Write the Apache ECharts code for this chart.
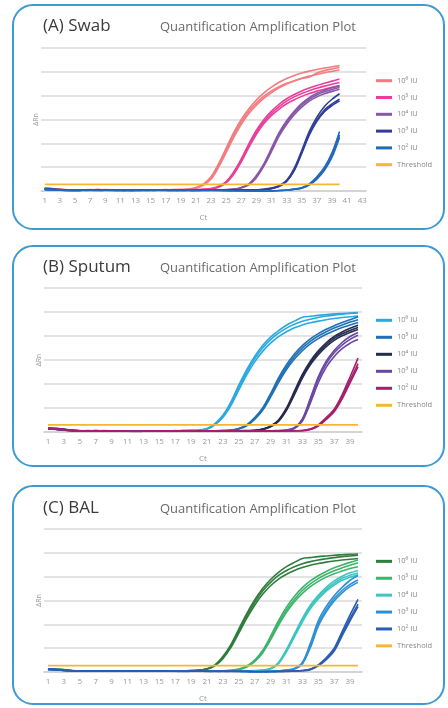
<!DOCTYPE html>
<html>
<head>
<meta charset="utf-8">
<script src="https://cdn.jsdelivr.net/npm/echarts@6/dist/echarts.min.js"></script>
<style>
  body { margin: 0; background: #fff; }
  .panel { position: absolute; left: 0; width: 448px; height: 236px; }
</style>
</head>
<body>
<div id="swab" class="panel" style="top:0"></div>
<div id="sputum" class="panel" style="top:236px"></div>
<div id="bal" class="panel" style="top:472px"></div>
<script>
// cycle categories
const cyclesA = [1,2,3,4,5,6,7,8,9,10,11,12,13,14,15,16,17,18,19,20,21,22,23,24,25,26,27,28,29,30,31,32,33,34,35,36,37,38,39,40,41,42,43];
const cyclesB = [1,2,3,4,5,6,7,8,9,10,11,12,13,14,15,16,17,18,19,20,21,22,23,24,25,26,27,28,29,30,31,32,33,34,35,36,37,38,39,40];
const legendNames = ['10⁶ IU', '10⁵ IU', '10⁴ IU', '10³ IU', '10² IU'];

// (A) Swab, three replicates per dilution, ΔRn per cycle
const swab6 = [
  [0.12,0.1,0.07,0.05,0.04,0.05,0.06,0.05,0.06,0.05,0.04,0.04,0.05,0.05,0.04,0.05,0.06,0.05,0.05,0.08,0.15,0.3,0.6,1.15,1.8,2.45,3.0,3.45,3.82,4.12,4.36,4.56,4.72,4.85,4.95,5.03,5.1,5.16,5.21,5.26],
  [0.11,0.09,0.06,0.04,0.04,0.05,0.05,0.06,0.05,0.04,0.04,0.05,0.04,0.05,0.05,0.04,0.05,0.06,0.06,0.07,0.13,0.27,0.55,1.05,1.7,2.35,2.9,3.35,3.7,3.98,4.2,4.38,4.52,4.63,4.72,4.78,4.95,5.05,5.12,5.18],
  [0.1,0.09,0.07,0.05,0.03,0.04,0.05,0.05,0.04,0.05,0.05,0.04,0.04,0.04,0.05,0.05,0.05,0.05,0.06,0.07,0.12,0.25,0.5,1.0,1.62,2.25,2.8,3.25,3.6,3.9,4.13,4.33,4.49,4.62,4.73,4.82,4.89,4.96,5.02,5.08]
];
const swab5 = [
  [0.11,0.09,0.06,0.05,0.04,0.04,0.05,0.06,0.05,0.04,0.04,0.05,0.05,0.04,0.04,0.05,0.05,0.05,0.04,0.05,0.05,0.07,0.1,0.2,0.4,0.8,1.35,1.98,2.55,3.0,3.35,3.64,3.87,4.05,4.2,4.32,4.43,4.52,4.61,4.7],
  [0.1,0.08,0.06,0.04,0.04,0.05,0.05,0.05,0.04,0.04,0.05,0.05,0.04,0.04,0.05,0.04,0.05,0.04,0.05,0.05,0.06,0.07,0.09,0.18,0.37,0.75,1.28,1.9,2.46,2.92,3.26,3.54,3.77,3.95,4.09,4.21,4.31,4.4,4.48,4.55],
  [0.1,0.09,0.05,0.04,0.03,0.04,0.05,0.04,0.05,0.05,0.04,0.04,0.05,0.05,0.04,0.04,0.05,0.05,0.05,0.04,0.05,0.06,0.08,0.16,0.34,0.7,1.22,1.83,2.38,2.83,3.17,3.44,3.66,3.83,3.97,4.09,4.19,4.27,4.35,4.42]
];
const swab4 = [
  [0.09,0.08,0.06,0.04,0.03,0.04,0.05,0.04,0.04,0.05,0.04,0.03,0.04,0.05,0.04,0.04,0.04,0.05,0.04,0.03,0.04,0.04,0.05,0.05,0.06,0.08,0.15,0.3,0.65,1.15,1.8,2.45,2.95,3.35,3.68,3.92,4.1,4.23,4.33,4.42],
  [0.08,0.07,0.05,0.04,0.04,0.04,0.04,0.05,0.04,0.04,0.03,0.04,0.04,0.04,0.05,0.04,0.03,0.04,0.04,0.04,0.03,0.04,0.04,0.05,0.05,0.07,0.14,0.28,0.6,1.1,1.72,2.38,2.88,3.28,3.6,3.85,4.03,4.16,4.26,4.34],
  [0.09,0.08,0.05,0.03,0.03,0.04,0.04,0.04,0.05,0.04,0.04,0.04,0.03,0.04,0.04,0.05,0.04,0.04,0.03,0.04,0.04,0.05,0.04,0.04,0.05,0.07,0.13,0.26,0.56,1.05,1.66,2.3,2.8,3.2,3.52,3.77,3.95,4.08,4.18,4.27]
];
const swab3 = [
  [0.08,0.07,0.05,0.03,0.02,0.03,0.04,0.03,0.04,0.04,0.03,0.03,0.02,0.03,0.04,0.04,0.03,0.03,0.04,0.03,0.02,0.03,0.03,0.04,0.03,0.03,0.04,0.04,0.05,0.07,0.12,0.22,0.45,0.95,1.7,2.5,3.1,3.55,3.85,4.08],
  [0.07,0.06,0.04,0.03,0.03,0.03,0.03,0.04,0.03,0.03,0.02,0.03,0.03,0.04,0.03,0.03,0.03,0.04,0.03,0.02,0.03,0.03,0.04,0.03,0.03,0.04,0.03,0.04,0.05,0.06,0.11,0.2,0.42,0.88,1.62,2.4,2.98,3.4,3.65,3.85],
  [0.08,0.06,0.04,0.02,0.02,0.03,0.03,0.03,0.04,0.03,0.03,0.02,0.03,0.03,0.03,0.04,0.03,0.02,0.03,0.03,0.03,0.04,0.03,0.03,0.04,0.03,0.03,0.04,0.04,0.06,0.1,0.19,0.4,0.85,1.58,2.35,2.92,3.33,3.58,3.78]
];
const swab2 = [
  [0.07,0.06,0.04,0.03,0.02,0.03,0.03,0.02,0.03,0.03,0.02,0.02,0.03,0.03,0.02,0.03,0.03,0.02,0.02,0.03,0.02,0.02,0.03,0.02,0.02,0.01,0.01,0.0,-0.01,-0.02,-0.01,0.01,0.04,0.08,0.14,0.3,0.6,1.0,1.6,2.5],
  [0.06,0.05,0.04,0.02,0.02,0.02,0.03,0.03,0.02,0.02,0.03,0.02,0.02,0.02,0.03,0.02,0.02,0.03,0.02,0.02,0.02,0.03,0.02,0.02,0.01,0.01,0.0,0.0,-0.01,-0.01,0.0,0.02,0.04,0.07,0.13,0.28,0.55,0.92,1.5,2.35],
  [0.07,0.05,0.03,0.02,0.02,0.03,0.02,0.02,0.03,0.02,0.02,0.03,0.02,0.02,0.02,0.03,0.02,0.02,0.02,0.03,0.02,0.02,0.02,0.02,0.01,0.0,0.0,-0.01,-0.02,-0.01,0.0,0.02,0.03,0.07,0.12,0.25,0.5,0.87,1.42,2.25]
];
const swabThreshold = 0.28;

// (B) Sputum
const sputum6 = [
  [0.16,0.15,0.12,0.08,0.06,0.05,0.05,0.06,0.05,0.04,0.04,0.05,0.05,0.04,0.05,0.05,0.06,0.05,0.06,0.08,0.15,0.35,0.7,1.25,1.95,2.6,3.15,3.6,3.95,4.22,4.45,4.62,4.78,4.82,4.86,4.89,4.92,4.94,4.96,4.98],
  [0.15,0.14,0.11,0.07,0.05,0.05,0.06,0.05,0.04,0.05,0.05,0.04,0.04,0.05,0.05,0.04,0.05,0.06,0.06,0.07,0.13,0.32,0.65,1.18,1.85,2.5,3.05,3.5,3.85,4.12,4.33,4.49,4.61,4.7,4.77,4.83,4.87,4.91,4.94,4.96],
  [0.14,0.13,0.1,0.07,0.05,0.04,0.05,0.05,0.05,0.04,0.04,0.05,0.04,0.04,0.05,0.05,0.05,0.05,0.06,0.07,0.12,0.3,0.6,1.1,1.75,2.38,2.92,3.36,3.7,3.97,4.18,4.34,4.46,4.55,4.62,4.68,4.73,4.77,4.8,4.83]
];
const sputum5 = [
  [0.15,0.14,0.11,0.07,0.05,0.04,0.05,0.05,0.04,0.04,0.05,0.04,0.04,0.05,0.04,0.04,0.05,0.04,0.04,0.05,0.05,0.05,0.06,0.08,0.15,0.3,0.6,1.0,1.6,2.25,2.8,3.25,3.6,3.88,4.1,4.28,4.43,4.56,4.68,4.8],
  [0.14,0.13,0.1,0.06,0.05,0.05,0.04,0.04,0.05,0.04,0.04,0.04,0.05,0.04,0.04,0.05,0.04,0.04,0.05,0.04,0.05,0.05,0.06,0.07,0.14,0.28,0.56,0.95,1.52,2.15,2.7,3.15,3.5,3.78,4.0,4.18,4.33,4.46,4.58,4.68],
  [0.14,0.12,0.09,0.06,0.04,0.04,0.04,0.05,0.04,0.04,0.04,0.05,0.04,0.04,0.04,0.04,0.05,0.04,0.04,0.04,0.05,0.05,0.05,0.07,0.13,0.26,0.52,0.9,1.45,2.06,2.6,3.04,3.39,3.67,3.89,4.07,4.22,4.35,4.46,4.56]
];
const sputum4 = [
  [0.14,0.13,0.1,0.06,0.05,0.04,0.04,0.05,0.04,0.04,0.03,0.04,0.04,0.05,0.04,0.04,0.04,0.03,0.04,0.04,0.05,0.04,0.04,0.05,0.05,0.06,0.07,0.12,0.25,0.5,1.0,1.7,2.4,2.95,3.38,3.72,3.98,4.17,4.32,4.45],
  [0.13,0.12,0.09,0.06,0.04,0.04,0.05,0.04,0.04,0.03,0.04,0.04,0.04,0.04,0.05,0.04,0.03,0.04,0.04,0.04,0.04,0.05,0.04,0.04,0.05,0.05,0.06,0.11,0.23,0.47,0.95,1.63,2.32,2.87,3.3,3.64,3.9,4.09,4.23,4.35],
  [0.13,0.12,0.09,0.05,0.04,0.04,0.04,0.04,0.04,0.04,0.04,0.03,0.04,0.04,0.04,0.05,0.04,0.04,0.03,0.04,0.04,0.04,0.05,0.04,0.04,0.05,0.06,0.11,0.22,0.44,0.9,1.56,2.25,2.8,3.22,3.56,3.82,4.01,4.15,4.27]
];
const sputum3 = [
  [0.14,0.13,0.09,0.06,0.04,0.04,0.04,0.04,0.03,0.04,0.04,0.04,0.03,0.04,0.04,0.04,0.03,0.04,0.04,0.03,0.04,0.04,0.04,0.03,0.04,0.04,0.05,0.04,0.05,0.05,0.08,0.18,0.55,1.4,2.3,2.95,3.4,3.73,3.98,4.15],
  [0.13,0.12,0.08,0.05,0.04,0.04,0.03,0.04,0.04,0.04,0.03,0.04,0.04,0.04,0.03,0.04,0.04,0.04,0.03,0.04,0.04,0.03,0.04,0.04,0.04,0.05,0.04,0.05,0.05,0.06,0.07,0.16,0.5,1.32,2.2,2.85,3.3,3.62,3.86,4.03],
  [0.13,0.11,0.08,0.05,0.04,0.03,0.04,0.04,0.04,0.03,0.04,0.04,0.03,0.04,0.04,0.03,0.04,0.04,0.04,0.04,0.03,0.04,0.04,0.03,0.04,0.04,0.04,0.05,0.05,0.05,0.07,0.14,0.45,1.2,2.05,2.7,3.15,3.47,3.7,3.85]
];
const sputum2 = [
  [0.15,0.14,0.11,0.07,0.05,0.05,0.06,0.04,0.04,0.05,0.03,0.02,0.03,0.04,0.05,0.04,0.03,0.05,0.06,0.05,0.04,0.05,0.05,0.04,0.05,0.04,0.03,0.04,0.05,0.04,0.05,0.05,0.06,0.12,0.3,0.6,0.95,1.55,2.3,3.08],
  [0.14,0.13,0.1,0.07,0.05,0.06,0.05,0.04,0.05,0.04,0.03,0.03,0.04,0.05,0.04,0.03,0.04,0.06,0.05,0.05,0.05,0.04,0.04,0.05,0.05,0.04,0.04,0.04,0.04,0.05,0.04,0.05,0.06,0.11,0.27,0.55,0.88,1.45,2.15,2.85],
  [0.14,0.12,0.09,0.06,0.05,0.05,0.05,0.05,0.04,0.04,0.04,0.03,0.03,0.04,0.04,0.04,0.04,0.05,0.05,0.04,0.04,0.05,0.04,0.04,0.04,0.04,0.05,0.04,0.04,0.04,0.05,0.05,0.05,0.1,0.25,0.52,0.84,1.38,2.05,2.72]
];
const sputumThreshold = 0.3;

// (C) BAL
const bal6 = [
  [0.13,0.12,0.1,0.06,0.04,0.04,0.05,0.04,0.05,0.04,0.04,0.03,0.04,0.04,0.05,0.04,0.05,0.05,0.06,0.08,0.14,0.3,0.65,1.15,1.8,2.45,3.02,3.5,3.88,4.18,4.42,4.6,4.76,4.8,4.84,4.87,4.9,4.92,4.94,4.95],
  [0.12,0.11,0.09,0.06,0.04,0.04,0.04,0.05,0.04,0.04,0.03,0.04,0.04,0.05,0.04,0.04,0.04,0.05,0.06,0.07,0.13,0.28,0.6,1.08,1.72,2.35,2.92,3.4,3.76,4.05,4.26,4.42,4.54,4.63,4.7,4.75,4.8,4.84,4.87,4.9],
  [0.12,0.11,0.08,0.05,0.04,0.03,0.04,0.04,0.04,0.04,0.04,0.04,0.03,0.04,0.04,0.05,0.05,0.05,0.05,0.07,0.12,0.26,0.56,1.02,1.63,2.25,2.8,3.26,3.62,3.9,4.1,4.26,4.38,4.48,4.55,4.61,4.66,4.7,4.73,4.76]
];
const bal5 = [
  [0.12,0.11,0.09,0.05,0.04,0.04,0.04,0.04,0.03,0.04,0.04,0.04,0.03,0.04,0.04,0.04,0.03,0.04,0.04,0.04,0.04,0.05,0.05,0.07,0.12,0.25,0.5,0.9,1.5,2.15,2.72,3.18,3.54,3.82,4.04,4.22,4.37,4.49,4.6,4.7],
  [0.12,0.1,0.08,0.05,0.04,0.03,0.04,0.04,0.04,0.04,0.03,0.04,0.04,0.04,0.03,0.04,0.04,0.04,0.03,0.04,0.04,0.05,0.05,0.06,0.11,0.23,0.46,0.85,1.42,2.05,2.6,3.05,3.42,3.7,3.92,4.1,4.25,4.37,4.48,4.58],
  [0.11,0.1,0.08,0.05,0.03,0.04,0.04,0.03,0.04,0.04,0.04,0.03,0.04,0.04,0.04,0.03,0.04,0.04,0.04,0.04,0.04,0.04,0.05,0.06,0.1,0.21,0.43,0.8,1.35,1.96,2.5,2.95,3.3,3.58,3.8,3.98,4.12,4.24,4.34,4.42]
];
const bal4 = [
  [0.12,0.11,0.08,0.05,0.04,0.04,0.03,0.04,0.04,0.03,0.04,0.04,0.04,0.03,0.04,0.04,0.04,0.03,0.04,0.04,0.04,0.03,0.04,0.04,0.04,0.05,0.06,0.08,0.15,0.4,0.95,1.6,2.25,2.8,3.22,3.55,3.82,4.02,4.16,4.26],
  [0.11,0.1,0.08,0.05,0.03,0.03,0.04,0.04,0.03,0.04,0.04,0.03,0.04,0.04,0.04,0.03,0.04,0.04,0.04,0.03,0.04,0.04,0.03,0.04,0.04,0.05,0.05,0.07,0.14,0.37,0.9,1.53,2.17,2.72,3.14,3.47,3.73,3.93,4.06,4.15],
  [0.11,0.1,0.07,0.04,0.03,0.04,0.03,0.03,0.04,0.04,0.03,0.04,0.03,0.04,0.03,0.04,0.04,0.03,0.04,0.04,0.03,0.04,0.04,0.04,0.04,0.04,0.05,0.07,0.13,0.35,0.85,1.47,2.1,2.65,3.06,3.39,3.65,3.85,3.98,4.08]
];
const bal3 = [
  [0.12,0.1,0.07,0.04,0.03,0.03,0.04,0.03,0.03,0.04,0.03,0.03,0.04,0.03,0.03,0.04,0.03,0.03,0.03,0.04,0.03,0.03,0.04,0.03,0.03,0.03,0.02,0.02,0.03,0.05,0.08,0.15,0.4,1.2,2.15,2.75,3.2,3.55,3.85,4.05],
  [0.11,0.1,0.07,0.04,0.03,0.03,0.03,0.04,0.03,0.03,0.03,0.04,0.03,0.03,0.03,0.03,0.04,0.03,0.03,0.03,0.04,0.03,0.03,0.03,0.03,0.02,0.02,0.02,0.03,0.04,0.07,0.14,0.37,1.1,2.02,2.62,3.08,3.42,3.68,3.86],
  [0.11,0.09,0.06,0.04,0.03,0.03,0.03,0.03,0.04,0.03,0.03,0.03,0.03,0.04,0.03,0.03,0.03,0.04,0.03,0.03,0.03,0.03,0.03,0.04,0.03,0.02,0.02,0.02,0.03,0.04,0.07,0.13,0.34,1.02,1.92,2.52,2.98,3.32,3.58,3.76]
];
const bal2 = [
  [0.12,0.11,0.08,0.05,0.04,0.04,0.05,0.04,0.04,0.03,0.03,0.04,0.04,0.03,0.04,0.04,0.03,0.02,0.03,0.04,0.03,0.03,0.02,0.03,0.03,0.02,0.01,0.01,0.01,0.02,0.03,0.04,0.06,0.12,0.3,0.6,1.0,1.7,2.4,3.05],
  [0.12,0.1,0.08,0.05,0.04,0.04,0.04,0.04,0.03,0.04,0.04,0.03,0.03,0.04,0.04,0.03,0.03,0.03,0.04,0.03,0.03,0.02,0.03,0.03,0.02,0.02,0.01,0.01,0.02,0.02,0.03,0.04,0.06,0.11,0.28,0.56,0.93,1.6,2.25,2.85],
  [0.11,0.1,0.07,0.05,0.04,0.03,0.04,0.04,0.04,0.03,0.03,0.04,0.03,0.03,0.04,0.03,0.03,0.03,0.03,0.04,0.02,0.03,0.03,0.02,0.02,0.02,0.01,0.01,0.01,0.02,0.02,0.04,0.05,0.1,0.26,0.52,0.88,1.52,2.15,2.74]
];
const balThreshold = 0.27;

const FONT = 'Open Sans';

function drawPanel(domId, p) {
  var chart = echarts.init(document.getElementById(domId));
  var series = [];
  p.groups.forEach(function (reps, k) {
    reps.forEach(function (vals) {
      series.push({
        type: 'line',
        name: legendNames[k],
        data: vals,
        symbol: 'none',
        smooth: 0.3,
        silent: true,
        lineStyle: { color: p.colors[k], width: 1.6 },
        itemStyle: { color: p.colors[k] }
      });
    });
  });
  // threshold across the run
  series.push({
    type: 'line',
    name: 'Threshold',
    data: cyclesB.map(function () { return p.threshold; }),
    symbol: 'none',
    silent: true,
    lineStyle: { color: '#f5b730', width: 1.8 },
    itemStyle: { color: '#f5b730' }
  });

  chart.setOption({
    animation: false,
    textStyle: { fontFamily: FONT },
    grid: p.grid,
    xAxis: {
      type: 'category',
      data: p.cycles,
      boundaryGap: true,
      name: 'Ct',
      nameLocation: 'middle',
      nameGap: 23,
      nameTextStyle: { fontSize: 8, color: '#999' },
      axisTick: { show: false },
      axisLine: { lineStyle: { color: '#cfcfcf', width: 1.5 } },
      axisLabel: { interval: 1, fontSize: 8, color: '#999', margin: 6 }
    },
    yAxis: {
      type: 'value',
      min: 0,
      max: 6,
      interval: 1,
      name: 'ΔRn',
      nameLocation: 'middle',
      nameGap: 2,
      nameTextStyle: { fontSize: 7, color: '#999' },
      axisLabel: { show: false },
      axisLine: { show: false },
      axisTick: { show: false },
      splitLine: { lineStyle: { color: '#dadada', width: 1.5 } }
    },
    legend: {
      orient: 'vertical',
      left: 376,
      top: p.legendTop,
      padding: 0,
      icon: 'rect',
      itemWidth: 16,
      itemHeight: 3,
      itemGap: 0,
      textStyle: { fontSize: 7.5, color: '#888', lineHeight: p.legendStep },
      data: legendNames.concat(['Threshold'])
    },
    graphic: [
      {
        type: 'rect',
        shape: { x: 13, y: p.boxTop, width: 431, height: p.boxHeight, r: 20 },
        style: { fill: 'none', stroke: '#3d9bd4', lineWidth: 2 },
        silent: true
      },
      {
        type: 'text',
        left: 43,
        top: p.titleY - 12,
        style: { text: p.title, fontFamily: FONT, fontSize: 17, fill: '#3a3a3a' }
      },
      {
        type: 'text',
        left: 160,
        top: p.titleY - 9,
        style: { text: 'Quantification Amplification Plot', fontFamily: FONT, fontSize: 13, fill: '#6a6a6a' }
      }
    ],
    series: series
  });
}

drawPanel('swab', {
  title: '(A) Swab',
  cycles: cyclesA,
  groups: [swab6, swab5, swab4, swab3, swab2],
  colors: ['#f27c7f', '#e8409a', '#8956a8', '#2f3f98', '#2169bb'],
  threshold: swabThreshold,
  grid: { left: 41, top: 48, width: 325, height: 143 },
  legendTop: 72.3, legendStep: 16.8,
  boxTop: 5, boxHeight: 224, titleY: 30
});

drawPanel('sputum', {
  title: '(B) Sputum',
  cycles: cyclesB,
  groups: [sputum6, sputum5, sputum4, sputum3, sputum2],
  colors: ['#2aa9e0', '#1f70b5', '#262b50', '#6a47a5', '#a51f6e'],
  threshold: sputumThreshold,
  grid: { left: 44, top: 52, width: 318, height: 144 },
  legendTop: 75.8, legendStep: 17,
  boxTop: 10, boxHeight: 220, titleY: 35
});

drawPanel('bal', {
  title: '(C) BAL',
  cycles: cyclesB,
  groups: [bal6, bal5, bal4, bal3, bal2],
  colors: ['#2f7d3d', '#3db46b', '#3cc5c1', '#2e90d4', '#2a5cb3'],
  threshold: balThreshold,
  grid: { left: 44, top: 57, width: 318, height: 143 },
  legendTop: 80.9, legendStep: 16.9,
  boxTop: 14, boxHeight: 218, titleY: 40
});
</script>
</body>
</html>
